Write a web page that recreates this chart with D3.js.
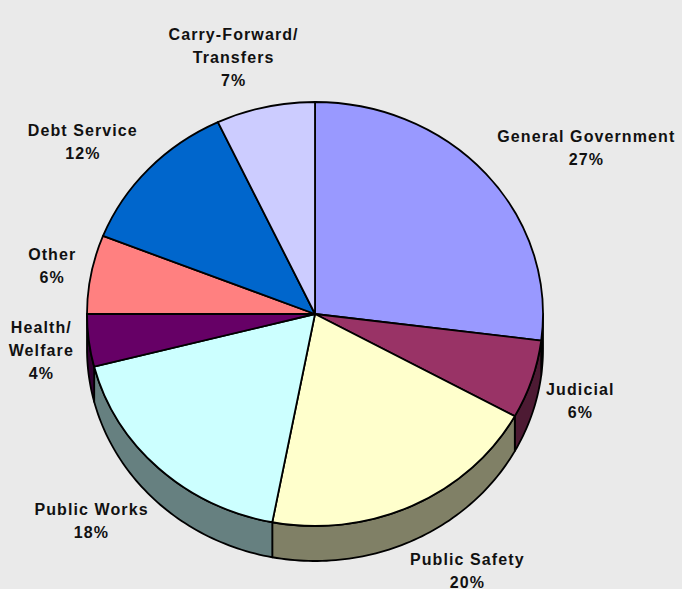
<!DOCTYPE html>
<html>
<head>
<meta charset="utf-8">
<script src="https://cdn.jsdelivr.net/npm/d3@7"></script>
<style>
  body { margin: 0; background: #eaeaea; }
  svg { display: block; }
  .lbl { font-family: "Liberation Sans", Arial, sans-serif; font-weight: bold; font-size: 16px; letter-spacing: 1.1px; fill: #111; }
</style>
</head>
<body>
<svg id="chart"></svg>
<script>
// budget shares, clockwise from 12 o'clock
const categories = ["General Government", "Judicial", "Public Safety", "Public Works",
  "Health/Welfare", "Other", "Debt Service", "Carry-Forward/Transfers"];
const labelLines = [["General Government"], ["Judicial"], ["Public Safety"], ["Public Works"],
  ["Health/", "Welfare"], ["Other"], ["Debt Service"], ["Carry-Forward/", "Transfers"]];
const shares = [27, 6, 20, 18, 4, 6, 12, 7];

const colors = ["#9999ff", "#993366", "#ffffcc", "#ccffff", "#660066", "#ff8080", "#0066cc", "#ccccff"];

const width = 682, height = 589;
const cx = 315, cy = 314, rx = 228, ry = 212, depth = 35;
const lineH = 23, gap = 15;

const svg = d3.select("#chart").attr("width", width).attr("height", height);

const color = d3.scaleOrdinal(categories, colors);

const data = categories.map((c, i) => ({ name: c, value: shares[i], lines: labelLines[i] }));
const arcs = d3.pie().sort(null).value(d => d.value)(data);

// point on the top ellipse at angle a (0 = top, clockwise)
function pt(a) {
  return [cx + rx * Math.sin(a), cy - ry * Math.cos(a)];
}

// visible front wall of a slice
function sidePath(a0, a1) {
  const s = Math.max(a0, Math.PI / 2), e = Math.min(a1, 3 * Math.PI / 2);
  if (e <= s) return null;
  const n = Math.max(2, Math.ceil((e - s) / 0.02));
  const top = d3.range(n + 1).map(i => pt(s + (e - s) * i / n));
  const bottom = top.slice().reverse().map(p => [p[0], p[1] + depth]);
  return d3.line()(top.concat(bottom)) + "Z";
}

svg.append("g").selectAll("path")
  .data(arcs.filter(d => sidePath(d.startAngle, d.endAngle)))
  .enter()
  .append("path")
  .attr("d", d => sidePath(d.startAngle, d.endAngle))
  .attr("fill", d => {
    const c = d3.rgb(color(d.data.name));
    return d3.rgb(c.r / 2, c.g / 2, c.b / 2);
  })
  .attr("stroke", "#000")
  .attr("stroke-width", 1.8)
  .attr("stroke-linejoin", "round");

// top faces
const arc = d3.arc().innerRadius(0).outerRadius(rx);
svg.append("g")
  .attr("transform", `translate(${cx},${cy}) scale(1,${ry / rx})`)
  .selectAll("path")
  .data(arcs)
  .enter()
  .append("path")
  .attr("d", arc)
  .attr("fill", d => color(d.data.name))
  .attr("stroke", "#000")
  .attr("stroke-width", 1.8)
  .attr("stroke-linejoin", "round")
  .attr("vector-effect", "non-scaling-stroke");

// labels outside the pie
const lg = svg.append("g");
arcs.forEach(d => {
  const m = (d.startAngle + d.endAngle) / 2;
  const sn = Math.sin(m), cs = Math.cos(m);
  const lines = d.data.lines.concat([d.data.value + "%"]);
  const t = lg.append("text").attr("class", "lbl").attr("text-anchor", "middle");
  lines.forEach((s, i) => t.append("tspan").attr("x", 0).attr("y", i * lineH).text(s));
  const w = d3.max(t.selectAll("tspan").nodes(), n => n.getComputedTextLength());
  const h = lines.length * lineH;
  let [px, py] = pt(m);
  if (cs < 0) py += depth * (-cs);
  const k = Math.max(-1, Math.min(1, sn * 2));
  const lx = px + gap * sn + k * w / 2;
  const ly = py - gap * cs - cs * h / 2;
  t.attr("transform", `translate(${lx},${ly - h / 2 + lineH * 0.7})`);
});
</script>
</body>
</html>
